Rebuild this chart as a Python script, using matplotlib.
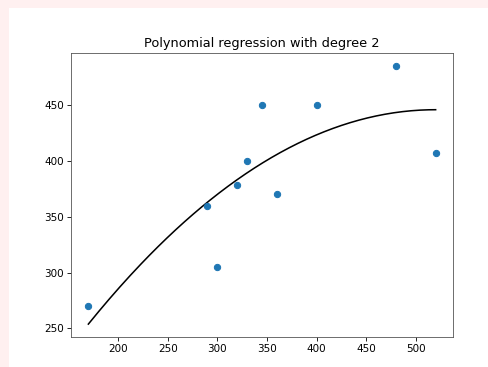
import numpy as np
import matplotlib
matplotlib.use("Agg")
import matplotlib.pyplot as plt
from matplotlib.patches import Rectangle

x_vals = [170, 290, 300, 320, 330, 345, 360, 400, 480, 520]
y_vals = [270, 360, 305, 378, 400, 450, 370, 450, 485, 407]
degree = 2
title = "Polynomial regression with degree 2"

W, H = 488, 367
DPI = 75
fig = plt.figure(figsize=(W / DPI, H / DPI), dpi=DPI, facecolor="#fff0f0")
# white canvas inset
bg = Rectangle((9 / W, 0), (W - 9) / W, (H - 8) / H,
               transform=fig.transFigure, facecolor="white",
               edgecolor="none", zorder=-10)
fig.add_artist(bg)

ax = fig.add_axes([71 / W, (H - 337) / H, 382 / W, 284 / H])
ax.set_zorder(1)

coef = np.polyfit(x_vals, y_vals, degree)
xs = np.linspace(min(x_vals), max(x_vals), 200)
ax.scatter(x_vals, y_vals, color="#1f77b4", zorder=3)
ax.plot(xs, np.polyval(coef, xs), color="black")
ax.set_title(title, fontsize=12.4)
for s in ax.spines.values():
    s.set_edgecolor("#555555")

fig.savefig("out.png", dpi=DPI, facecolor=fig.get_facecolor())
